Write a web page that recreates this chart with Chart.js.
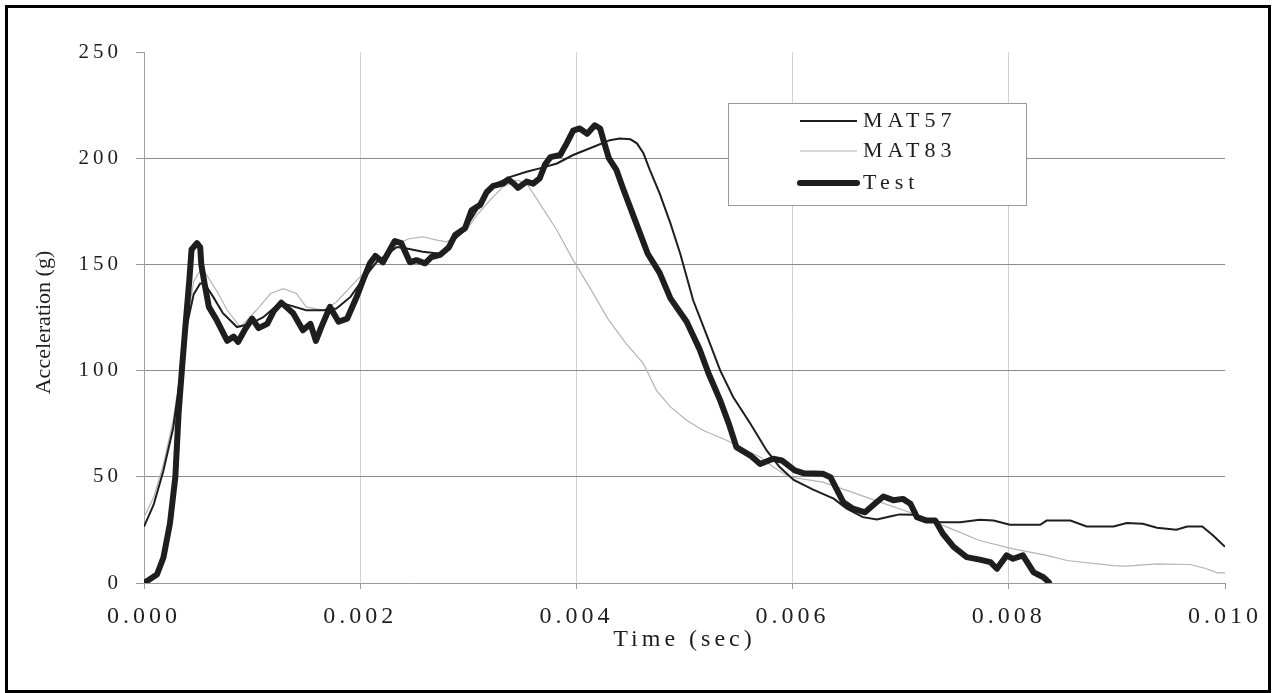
<!DOCTYPE html>
<html>
<head>
<meta charset="utf-8">
<script src="https://cdn.jsdelivr.net/npm/chart.js@4.4.1/dist/chart.umd.min.js"></script>
<style>
  html, body { margin: 0; padding: 0; background: #fff; }
  #wrap { position: relative; width: 1277px; height: 693px; }
  #frame { position: absolute; left: 5px; top: 5px; width: 1260px; height: 682px;
           border: 3px solid #000; pointer-events: none; }
  canvas { position: absolute; left: 0; top: 0; }
</style>
</head>
<body>
<div id="wrap">
  <canvas id="accChart" width="1277" height="693"></canvas>
  <div id="frame"></div>
</div>
<script>
// titles
const xTitle = 'Time (sec)'
const yTitle = 'Acceleration (g)'

// ticks
const xTicks = [0, 0.002, 0.004, 0.006, 0.008, 0.010]
const yTicks = [0, 50, 100, 150, 200, 250]

// MAT57
const mat57Time = [
  0, 0.00009, 0.00018, 0.00027, 0.00033, 0.00040, 0.00046, 0.00052, 0.00056, 0.00064,
  0.00073, 0.00086, 0.00098, 0.00110, 0.00126, 0.00135, 0.00150, 0.00166, 0.00178, 0.00191,
  0.00203, 0.00215, 0.00234, 0.00243, 0.00258, 0.00274, 0.00283, 0.00295, 0.00305, 0.00317,
  0.00326, 0.00339, 0.00354, 0.00366, 0.00382, 0.00397, 0.00416, 0.00431, 0.00440, 0.00450,
  0.00456, 0.00462, 0.00468, 0.00477, 0.00487, 0.00496, 0.00508, 0.00520, 0.00533, 0.00545,
  0.00561, 0.00576, 0.00588, 0.00601, 0.00619, 0.00638, 0.00650, 0.00665, 0.00678, 0.00690,
  0.00699, 0.00712, 0.00724, 0.00736, 0.00755, 0.00773, 0.00786, 0.00801, 0.00829, 0.00835,
  0.00857, 0.00872, 0.00897, 0.00909, 0.00924, 0.00937, 0.00955, 0.00965, 0.00979, 0.00989,
  0.01000
]
const mat57Accel = [
  26.5, 37, 53, 73, 95, 122, 136, 141, 141, 134.7,
  127, 120.5, 122, 125, 132, 130.7, 128.4, 128.4, 129.2, 134.7,
  143.3, 151, 158.2, 157.5, 156, 155, 159.8, 165.3, 173.2, 183.4,
  188, 191.2, 193.6, 195.2, 197.5, 201.5, 205.4, 208.5, 209.3, 208.9,
  207, 202.3, 194.4, 183.4, 169.3, 155.1, 133.1, 117.4, 100.1, 87.6,
  75, 62.4, 54.6, 48.5, 44, 39.7, 35, 31, 29.9, 31.3,
  32.3, 32.1, 29.4, 28.6, 28.6, 29.8, 29.4, 27.4, 27.4, 29.4,
  29.4, 26.6, 26.6, 28.2, 27.9, 26, 25.1, 26.6, 26.6, 22.4,
  17
]

// MAT83
const mat83Time = [
  0, 0.00009, 0.00018, 0.00027, 0.00033, 0.00040, 0.00046, 0.00053, 0.00058, 0.00067,
  0.00077, 0.00089, 0.00104, 0.00117, 0.00129, 0.00141, 0.00150, 0.00166, 0.00178, 0.00191,
  0.00203, 0.00218, 0.00234, 0.00246, 0.00258, 0.00271, 0.00280, 0.00289, 0.00298, 0.00308,
  0.00320, 0.00332, 0.00345, 0.00354, 0.00366, 0.00382, 0.00397, 0.00412, 0.00429, 0.00446,
  0.00462, 0.00474, 0.00487, 0.00502, 0.00517, 0.00539, 0.00557, 0.00570, 0.00582, 0.00597,
  0.00628, 0.00650, 0.00681, 0.00712, 0.00743, 0.00773, 0.00804, 0.00835, 0.00854, 0.00897,
  0.00909, 0.00937, 0.00968, 0.00983, 0.00993, 0.01000
]
const mat83Accel = [
  31, 40.4, 56, 76.6, 97, 124, 142, 148, 145, 137.8,
  128.4, 120.5, 128.4, 136.3, 138.6, 136.3, 130, 128.4, 132.3, 139.4,
  145.7, 152, 159.8, 162.2, 163, 161.4, 160.6, 163, 166.1, 173.2,
  180.2, 186.5, 189.7, 188.1, 178.7, 166.1, 152, 139.4, 124.5, 112.7,
  103.3, 90.7, 82.9, 76.6, 71.9, 67.2, 62.4, 59.3, 54.6, 49.9,
  47.5, 43.6, 38.1, 32.6, 26.3, 20, 16.1, 13, 10.6, 8.2,
  7.9, 9, 8.7, 6.7, 4.8, 4.8
]

// Test
const testTime = [
  0, 0.00012, 0.00018, 0.00024, 0.00029, 0.00032, 0.00035, 0.00038, 0.00042, 0.00044,
  0.00049, 0.00052, 0.00053, 0.00056, 0.00060, 0.00067, 0.00077, 0.00083, 0.00087, 0.00093,
  0.00100, 0.00106, 0.00114, 0.00120, 0.00127, 0.00138, 0.00147, 0.00154, 0.00159, 0.00164,
  0.00172, 0.00180, 0.00188, 0.00197, 0.00203, 0.00209, 0.00214, 0.00221, 0.00232, 0.00238,
  0.00246, 0.00252, 0.00260, 0.00266, 0.00274, 0.00282, 0.00288, 0.00297, 0.00303, 0.00311,
  0.00317, 0.00323, 0.00332, 0.00337, 0.00342, 0.00346, 0.00354, 0.00360, 0.00366, 0.00371,
  0.00376, 0.00385, 0.00391, 0.00397, 0.00403, 0.00410, 0.00417, 0.00422, 0.00425, 0.00430,
  0.00437, 0.00443, 0.00453, 0.00466, 0.00477, 0.00487, 0.00502, 0.00514, 0.00522, 0.00533,
  0.00541, 0.00548, 0.00561, 0.00570, 0.00582, 0.00590, 0.00602, 0.00610, 0.00628, 0.00635,
  0.00647, 0.00656, 0.00667, 0.00676, 0.00684, 0.00693, 0.00702, 0.00709, 0.00715, 0.00724,
  0.00732, 0.00739, 0.00749, 0.00761, 0.00773, 0.00783, 0.00789, 0.00798, 0.00804, 0.00813,
  0.00823, 0.00832, 0.00837
]
const testAccel = [
  0, 4, 12, 28, 50, 80, 100, 119, 143, 157,
  160, 158, 150, 141, 130, 124, 114, 116, 113.5, 119,
  124.5, 120, 122, 128, 132, 127, 119, 122, 114, 120.5,
  130, 123, 124.5, 135, 143, 150.5, 154, 151, 161, 160,
  151, 152, 150.5, 153.5, 154.5, 158, 164, 167, 175.5, 178,
  184, 187, 188, 190, 188, 186, 189, 188, 190.5, 197,
  200.5, 201.5, 207, 213, 214, 211.5, 215.5, 214, 208.5, 200,
  194.5, 186, 172.5, 155, 146, 134, 123, 110, 99, 86,
  75, 64, 60, 56, 58.5, 57.7, 53, 51.7, 51.4, 49.8,
  38, 35, 33.3, 37.3, 40.7, 39, 39.6, 37.3, 31, 29.4,
  29.4, 23.2, 17, 12.2, 11, 9.8, 6.7, 13, 11.4, 13,
  5, 2.7, 0.4
]

const serif = 'Liberation Serif'
const ink = '#1e1e1e'

function toPoints(times, values) {
  return times.map((t, i) => ({ x: t, y: values[i] }))
}

function near(a, b) {
  return Math.abs(a - b) < 1e-9
}

// letter spacing for ticks, own y title and legend box
const serifPlugin = {
  id: 'serifPlugin',
  beforeDraw(chart) {
    chart.ctx.letterSpacing = '4px'
  },
  afterDraw(chart) {
    const ctx = chart.ctx
    const area = chart.chartArea

    // y title, no spacing
    ctx.save()
    ctx.letterSpacing = '0px'
    ctx.fillStyle = ink
    ctx.font = `22px "${serif}"`
    ctx.textAlign = 'center'
    ctx.textBaseline = 'middle'
    ctx.translate(44, (area.top + area.bottom) / 2 + 5)
    ctx.rotate(-Math.PI / 2)
    ctx.fillText(yTitle, 0, 0)
    ctx.restore()

    // legend box
    const bx = area.left + 584
    const by = area.top + 51
    ctx.save()
    ctx.fillStyle = '#fff'
    ctx.fillRect(bx, by, 298, 102)
    ctx.strokeStyle = '#9a9a9a'
    ctx.lineWidth = 1
    ctx.strokeRect(bx + 0.5, by + 0.5, 298, 102)
    const rows = [18, 48, 80]
    chart.data.datasets.forEach((ds, i) => {
      const y = by + rows[i]
      ctx.beginPath()
      ctx.strokeStyle = ds.borderColor
      ctx.lineWidth = ds.borderWidth
      ctx.lineCap = ds.borderWidth > 3 ? 'round' : 'butt'
      ctx.moveTo(bx + 72, y)
      ctx.lineTo(bx + 129, y)
      ctx.stroke()
      ctx.fillStyle = ink
      ctx.font = `22px "${serif}"`
      ctx.letterSpacing = '5px'
      ctx.textAlign = 'left'
      ctx.textBaseline = 'middle'
      ctx.fillText(ds.label, bx + 135, y)
    })
    ctx.restore()
  }
}

const data = {
  datasets: [
    {
      label: 'MAT57',
      data: toPoints(mat57Time, mat57Accel),
      borderColor: ink,
      borderWidth: 2,
      order: 1
    },
    {
      label: 'MAT83',
      data: toPoints(mat83Time, mat83Accel),
      borderColor: '#b4b4b4',
      borderWidth: 1.2,
      order: 2
    },
    {
      label: 'Test',
      data: toPoints(testTime, testAccel),
      borderColor: ink,
      borderWidth: 6,
      borderCapStyle: 'round',
      borderJoinStyle: 'round',
      order: 0
    }
  ]
}

const config = {
  type: 'line',
  data: data,
  options: {
    responsive: false,
    animation: false,
    events: [],
    layout: { padding: { left: 0, top: 52, right: 52, bottom: 0 } },
    elements: {
      point: { radius: 0 },
      line: { tension: 0, fill: false }
    },
    plugins: {
      legend: { display: false },
      tooltip: { enabled: false }
    },
    scales: {
      x: {
        type: 'linear',
        min: xTicks[0],
        max: xTicks[xTicks.length - 1],
        afterFit(scale) { scale.height = 110 },
        afterBuildTicks(scale) { scale.ticks = xTicks.map(v => ({ value: v })) },
        border: { color: '#9a9a9a', width: 1 },
        grid: {
          color: c => (near(c.tick.value, 0) || near(c.tick.value, 0.01)) ? 'rgba(0,0,0,0)' : '#d2d2d2',
          tickColor: '#9a9a9a',
          tickLength: 6
        },
        ticks: {
          color: ink,
          font: { family: serif, size: 24 },
          padding: 13,
          maxRotation: 0,
          callback: v => Number(v).toFixed(3)
        },
        title: {
          display: true,
          text: xTitle,
          color: ink,
          font: { family: serif, size: 24 },
          padding: { top: 0, bottom: 39 }
        }
      },
      y: {
        min: yTicks[0],
        max: yTicks[yTicks.length - 1],
        afterFit(scale) { scale.width = 144 },
        afterBuildTicks(scale) { scale.ticks = yTicks.map(v => ({ value: v })) },
        border: { color: '#a0a0a0', width: 1 },
        grid: {
          color: c => (near(c.tick.value, 250) || near(c.tick.value, 0)) ? 'rgba(0,0,0,0)' : '#8c8c8c',
          tickColor: '#9a9a9a',
          tickLength: 8
        },
        ticks: {
          color: ink,
          font: { family: serif, size: 21 },
          padding: 14
        },
        title: { display: false }
      }
    }
  },
  plugins: [serifPlugin]
}

const accChart = new Chart(document.querySelector('#accChart'), config)
</script>
</body>
</html>
